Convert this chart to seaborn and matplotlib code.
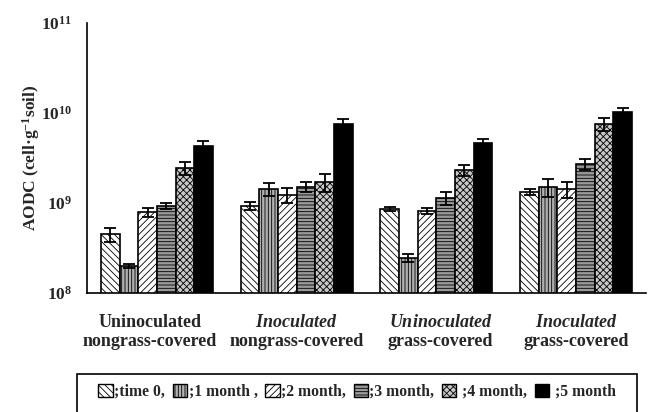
import matplotlib
matplotlib.use("Agg")
import matplotlib.pyplot as plt
from matplotlib.patches import Patch, Rectangle
from matplotlib.transforms import ScaledTranslation
import pandas as pd
import seaborn as sns

# Soil treatments (x categories) and sampling periods (hue levels)
treatments = [
    "Uninoculated\nnongrass-covered",
    "$\\mathit{Inoculated}$\nnongrass-covered",
    "$\\mathit{Uninoculated}$\ngrass-covered",
    "$\\mathit{Inoculated}$\ngrass-covered",
]
periods = ["time 0", "1 month", "2 month", "3 month", "4 month", "5 month"]

# AODC counts (cell per g soil) for each period, one value per treatment
aodc_time0 = [4.5e8, 9.3e8, 8.6e8, 1.33e9]
aodc_1month = [2.0e8, 1.43e9, 2.45e8, 1.51e9]
aodc_2month = [7.9e8, 1.23e9, 8.15e8, 1.43e9]
aodc_3month = [9.3e8, 1.51e9, 1.14e9, 2.71e9]
aodc_4month = [2.45e9, 1.71e9, 2.33e9, 7.55e9]
aodc_5month = [4.3e9, 7.55e9, 4.64e9, 1.03e10]

# Standard errors
err_time0 = [0.77e8, 1.0e8, 0.45e8, 1.0e8]
err_1month = [0.1e8, 2.4e8, 0.26e8, 3.4e8]
err_2month = [0.9e8, 2.4e8, 0.65e8, 2.8e8]
err_3month = [0.74e8, 2.0e8, 1.9e8, 3.7e8]
err_4month = [4.0e8, 3.9e8, 3.1e8, 1.25e9]
err_5month = [5.8e8, 1.0e9, 5.0e8, 1.1e9]

legend_labels = [";time 0,", ";1 month ,", ";2 month,", ";3 month,", " ;4 month,", " ;5 month"]

values = [aodc_time0, aodc_1month, aodc_2month, aodc_3month, aodc_4month, aodc_5month]
errors = [err_time0, err_1month, err_2month, err_3month, err_4month, err_5month]

rows = []
for period, vals, errs in zip(periods, values, errors):
    for t, v, e in zip(treatments, vals, errs):
        rows.append({"treatment": t, "period": period, "aodc": v, "err": e})
df = pd.DataFrame(rows)

sns.set_style("white")
plt.rcParams["font.family"] = ["Liberation Serif", "DejaVu Serif"]
plt.rcParams["font.weight"] = "bold"
plt.rcParams["mathtext.fontset"] = "custom"
plt.rcParams["mathtext.rm"] = "Liberation Serif:bold"
plt.rcParams["mathtext.it"] = "Liberation Serif:italic:bold"
plt.rcParams["mathtext.bf"] = "Liberation Serif:bold"
plt.rcParams["hatch.linewidth"] = 0.6

styles = {
    "time 0": ("white", "\\\\\\\\\\"),
    "1 month": ("#b0b0b0", "|||||"),
    "2 month": ("white", "/////"),
    "3 month": ("#9a9a9a", "-----"),
    "4 month": ("#c8c8c8", "xxxxx"),
    "5 month": ("black", ""),
}

fig = plt.figure(figsize=(6.51, 4.12), dpi=100)
ax = fig.add_axes([87 / 651, 1 - 293 / 412, (646 - 87) / 651, (293 - 23) / 412])
ax.set_yscale("log")

sns.barplot(
    data=df, x="treatment", y="aodc", hue="period",
    order=treatments, hue_order=periods, errorbar=None,
    width=0.8, palette=[styles[p][0] for p in periods],
    edgecolor="black", linewidth=1.2, legend=False, ax=ax,
)

for container, period, vals, errs in zip(ax.containers, periods, values, errors):
    face, hatch = styles[period]
    xs = []
    for bar in container:
        bar.set_facecolor(face)
        bar.set_hatch(hatch)
        bar.set_edgecolor("black")
        xs.append(bar.get_x() + bar.get_width() / 2)
    ax.errorbar(xs, vals, yerr=errs, fmt="none", ecolor="black",
                elinewidth=1.3, capsize=4, capthick=1.3, zorder=5)

ax.set_ylim(1e8, 1e11)
ax.set_xlim(-0.5, 3.5)
ax.set_yticks([1e8, 1e9, 1e10, 1e11])
ax.set_yticklabels(["$10^{8}$", "$10^{9}$", "$10^{10}$", "$10^{11}$"], fontsize=12.5)
ax.minorticks_off()
ax.tick_params(axis="y", length=0, pad=11)
ax.tick_params(axis="x", length=0, pad=15, labelsize=13)
ax.set_xlabel("")
ax.set_ylabel("AODC (cell·g$^{-1}$soil)", fontsize=12.5, fontweight="bold")
ax.yaxis.set_label_coords(-0.08, 0.5)

# small horizontal nudges of the category labels (pixels at 100 dpi)
label_shift_px = [-7, 0, 4, 0]
for lab, dx in zip(ax.get_xticklabels(), label_shift_px):
    lab.set_transform(lab.get_transform() + ScaledTranslation(dx / 100, 0, fig.dpi_scale_trans))

for side in ["top", "right"]:
    ax.spines[side].set_visible(False)
for side in ["left", "bottom"]:
    ax.spines[side].set_color("black")
    ax.spines[side].set_linewidth(1.2)

# Legend entries in a single boxed row under the axis labels
handles = [Patch(facecolor=styles[p][0], hatch=styles[p][1], edgecolor="black") for p in periods]
leg = fig.legend(
    handles, legend_labels, ncol=6, loc="center",
    bbox_to_anchor=(357 / 651, 1 - 392 / 412),
    frameon=False, fontsize=11.3,
    handlelength=0.9, handleheight=0.9, handletextpad=0.1,
    columnspacing=0.5, borderpad=0, borderaxespad=0,
)
fig.patches.append(Rectangle((77 / 651, 1 - 420 / 412), (637 - 77) / 651, 46 / 412,
                             transform=fig.transFigure, fill=False,
                             edgecolor="black", linewidth=1.2))

fig.savefig("out.png", dpi=100)
